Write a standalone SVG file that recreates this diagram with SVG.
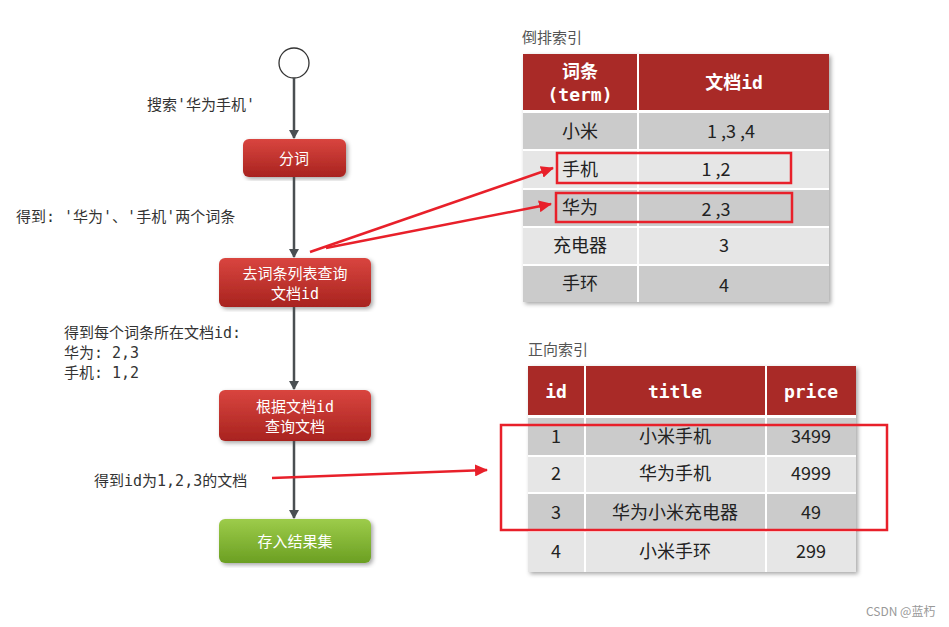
<svg xmlns="http://www.w3.org/2000/svg" width="949" height="627" viewBox="0 0 949 627">
<style>
text{font-family:"Noto Sans CJK SC","Noto Sans",sans-serif;}
.lbl{font-size:15px;fill:#333;font-family:"DejaVu Sans Mono","Noto Sans CJK SC",monospace}
.bt{font-size:15px;fill:#fff;text-anchor:middle;font-family:"DejaVu Sans Mono","Noto Sans CJK SC",monospace}
.hd{fill:#a92a27}
.th{font-size:18px;fill:#fff;font-weight:bold;text-anchor:middle;font-family:"DejaVu Sans Mono","Noto Sans CJK SC",monospace}
.td{font-size:18px;fill:#222;text-anchor:middle}
.dk{fill:#cbcbcb}.lt{fill:#e6e6e6}
.flow{stroke:#4a4f52;stroke-width:2.5;fill:none;marker-end:url(#ga)}
.red{stroke:#e8202a;stroke-width:2.5;fill:none}
.ttl{font-size:15px;fill:#555}
</style>
<defs>
<linearGradient id="rg" x1="0" y1="0" x2="0" y2="1"><stop offset="0" stop-color="#d9453f"/><stop offset="1" stop-color="#a8231f"/></linearGradient>
<linearGradient id="gg" x1="0" y1="0" x2="0" y2="1"><stop offset="0" stop-color="#9dcc4a"/><stop offset="1" stop-color="#6b9f22"/></linearGradient>
<marker id="ga" markerWidth="10" markerHeight="10" refX="8" refY="5" orient="auto" markerUnits="userSpaceOnUse"><path d="M0,0 L9,5 L0,10 Z" fill="#4a4f52"/></marker>
<marker id="ra" markerWidth="14" markerHeight="12" refX="12" refY="6" orient="auto" markerUnits="userSpaceOnUse"><path d="M0,0 L13,6 L0,12 Z" fill="#e8202a"/></marker>
<filter id="sh"><feDropShadow dx="2" dy="2" stdDeviation="2" flood-opacity="0.35"/></filter>
</defs>
<rect width="949" height="627" fill="#fff"/>
<g id="start"><circle cx="294" cy="63" r="15" fill="#fff" stroke="#333" stroke-width="1.3"/></g>
<text class="lbl" x="147" y="110">搜索'华为手机'</text>
<text class="lbl" x="16" y="222">得到: '华为'、'手机'两个词条</text>
<text class="lbl" x="64" y="338">得到每个词条所在文档id:</text>
<text class="lbl" x="64" y="358">华为: 2,3</text>
<text class="lbl" x="64" y="378">手机: 1,2</text>
<text class="lbl" x="94" y="486">得到id为1,2,3的文档</text>
<g id="n1"><rect x="243" y="139" width="103" height="38" rx="6" fill="url(#rg)" filter="url(#sh)"/><text class="bt" x="294" y="164">分词</text></g>
<g id="n2"><rect x="219" y="258" width="152" height="49" rx="6" fill="url(#rg)" filter="url(#sh)"/><text class="bt" x="295" y="279">去词条列表查询</text><text class="bt" x="295" y="299">文档id</text></g>
<g id="n3"><rect x="219" y="390" width="152" height="51" rx="6" fill="url(#rg)" filter="url(#sh)"/><text class="bt" x="295" y="412">根据文档id</text><text class="bt" x="295" y="432">查询文档</text></g>
<g id="n4"><rect x="219" y="519" width="152" height="44" rx="6" fill="url(#gg)" filter="url(#sh)"/><text class="bt" x="295" y="547">存入结果集</text></g>

<g id="inverted">
<text class="ttl" x="522" y="43">倒排索引</text>
<g filter="url(#sh)">
<rect x="523" y="54" width="306" height="248" fill="#fff"/>
</g>
<rect class="hd" x="523" y="54" width="114" height="56"/><rect class="hd" x="639" y="54" width="190" height="56"/>
<rect class="dk" x="523" y="113" width="114" height="36"/><rect class="dk" x="639" y="113" width="190" height="36"/>
<rect class="lt" x="523" y="151" width="114" height="37"/><rect class="lt" x="639" y="151" width="190" height="37"/>
<rect class="dk" x="523" y="190" width="114" height="36"/><rect class="dk" x="639" y="190" width="190" height="36"/>
<rect class="lt" x="523" y="228" width="114" height="36"/><rect class="lt" x="639" y="228" width="190" height="36"/>
<rect class="dk" x="523" y="266" width="114" height="36"/><rect class="dk" x="639" y="266" width="190" height="36"/>
<text class="th" x="580" y="78">词条</text><text class="th" x="580" y="101">(term)</text>
<text class="th" x="734" y="89">文档id</text>
<text class="td" x="580" y="138">小米</text><text class="td" x="731" y="138">1 ,3 ,4</text>
<text class="td" x="580" y="176">手机</text><text class="td" x="716" y="176">1 ,2</text>
<text class="td" x="580" y="214">华为</text><text class="td" x="716" y="216">2 ,3</text>
<text class="td" x="580" y="252">充电器</text><text class="td" x="724" y="252">3</text>
<text class="td" x="580" y="290">手环</text><text class="td" x="724" y="292">4</text>
<rect class="red" x="557" y="153" width="234" height="30"/>
<rect class="red" x="556" y="193" width="236" height="29"/>
</g>

<g id="forward">
<text class="ttl" x="528" y="355">正向索引</text>
<g filter="url(#sh)"><rect x="528" y="366" width="328" height="206" fill="#fff"/></g>
<rect class="hd" x="528" y="366" width="56" height="49"/><rect class="hd" x="586" y="366" width="179" height="49"/><rect class="hd" x="767" y="366" width="89" height="49"/>
<rect class="dk" x="528" y="418" width="56" height="37"/><rect class="dk" x="586" y="418" width="179" height="37"/><rect class="dk" x="767" y="418" width="89" height="37"/>
<rect class="lt" x="528" y="457" width="56" height="35"/><rect class="lt" x="586" y="457" width="179" height="35"/><rect class="lt" x="767" y="457" width="89" height="35"/>
<rect class="dk" x="528" y="494" width="56" height="36"/><rect class="dk" x="586" y="494" width="179" height="36"/><rect class="dk" x="767" y="494" width="89" height="36"/>
<rect class="lt" x="528" y="532" width="56" height="40"/><rect class="lt" x="586" y="532" width="179" height="40"/><rect class="lt" x="767" y="532" width="89" height="40"/>
<text class="th" x="556" y="398">id</text><text class="th" x="675" y="398">title</text><text class="th" x="811" y="398">price</text>
<text class="td" x="556" y="443">1</text><text class="td" x="675" y="443">小米手机</text><text class="td" x="811" y="443">3499</text>
<text class="td" x="556" y="480">2</text><text class="td" x="675" y="480">华为手机</text><text class="td" x="811" y="480">4999</text>
<text class="td" x="556" y="519">3</text><text class="td" x="675" y="519">华为小米充电器</text><text class="td" x="811" y="519">49</text>
<text class="td" x="556" y="558">4</text><text class="td" x="675" y="558">小米手环</text><text class="td" x="811" y="558">299</text>
<rect class="red" x="501" y="425" width="386" height="105"/>
</g>
<text x="866" y="616" font-size="12" fill="#999">CSDN @蓝朽</text>
<g id="connectors">
<line class="flow" x1="294" y1="78" x2="294" y2="138"/>
<line class="flow" x1="294" y1="177" x2="294" y2="257"/>
<line class="flow" x1="294" y1="307" x2="294" y2="389"/>
<line class="flow" x1="294" y1="441" x2="294" y2="518"/>
<line class="red" x1="310" y1="252" x2="553" y2="168" marker-end="url(#ra)"/>
<line class="red" x1="326" y1="248" x2="551" y2="204" marker-end="url(#ra)"/>
<line class="red" x1="272" y1="478" x2="487" y2="470" marker-end="url(#ra)"/>
</g>
</svg>
